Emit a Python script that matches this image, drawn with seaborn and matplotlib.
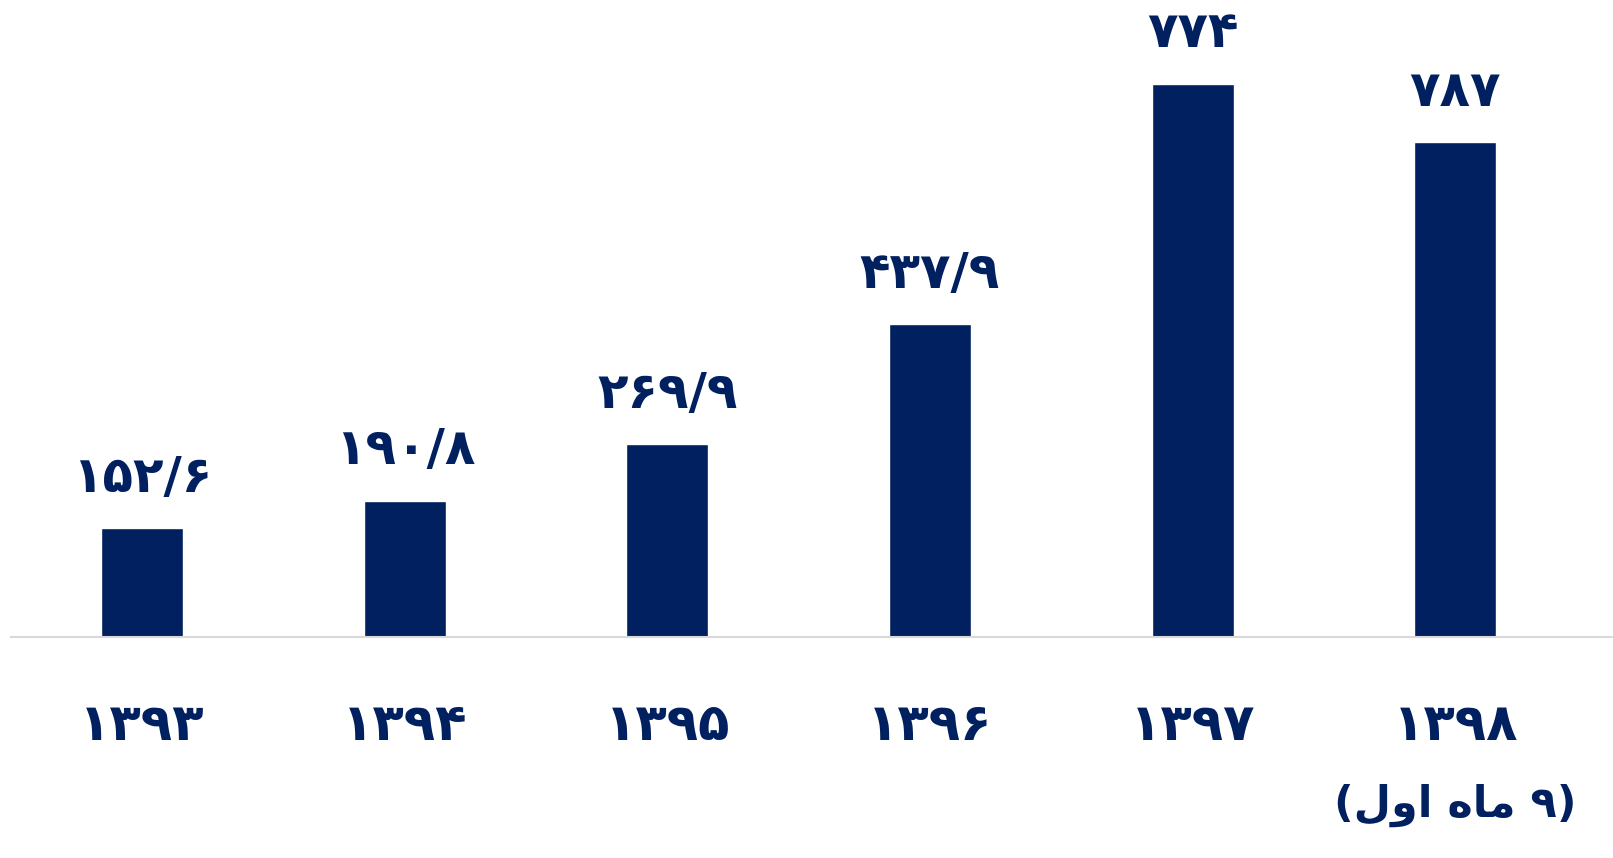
import matplotlib
matplotlib.use("Agg")
import matplotlib.pyplot as plt
import seaborn as sns
import pandas as pd

years = ["۱۳۹۳", "۱۳۹۴", "۱۳۹۵", "۱۳۹۶", "۱۳۹۷", "۱۳۹۸"]
values = [152.6, 190.8, 269.9, 437.9, 774, 692]
bar_labels = ["۱۵۲/۶", "۱۹۰/۸", "۲۶۹/۹", "۴۳۷/۹", "۷۷۴", "۷۸۷"]
# "(۹ ماه اول)" in visual order with Arabic presentation forms
last_note = "(\uFEDD\uFEED\uFE8D \uFEE9\uFE8E\uFEE3 ۹)"

navy = "#002060"

df = pd.DataFrame({"year": years, "value": values})

sns.set_style("white")
plt.rcParams["font.family"] = ["DejaVu Sans"]

fig = plt.figure(figsize=(16.13, 8.58), dpi=100)
ax = fig.add_axes([11 / 1613, (858 - 637) / 858, 1 - 11 / 1613, 637 / 858])

sns.barplot(data=df, x="year", y="value", color=navy, width=0.312,
            saturation=1, ax=ax)

for i, (v, lab) in enumerate(zip(values, bar_labels)):
    ax.annotate(lab, (i, v), xytext=(0, 19), textcoords="offset points",
                ha="center", va="bottom", fontsize=36, fontweight="bold",
                color=navy)

ax.set_xlim(-0.499, 5.60)
ax.set_ylim(0, 891)
ax.set_xlabel("")
ax.set_ylabel("")
ax.set_yticks([])
ax.set_xticks(range(len(years)))
ax.set_xticklabels(years, fontsize=37, fontweight="bold", color=navy)
ax.tick_params(axis="x", length=0, pad=46)
ax.text(5, -235, last_note, ha="center", va="center", fontsize=31,
        fontweight="bold", color=navy)

for s in ["top", "right", "left"]:
    ax.spines[s].set_visible(False)
ax.spines["bottom"].set_color("#d9d9d9")
ax.spines["bottom"].set_linewidth(1.5)

fig.savefig("out.png", dpi=100)
